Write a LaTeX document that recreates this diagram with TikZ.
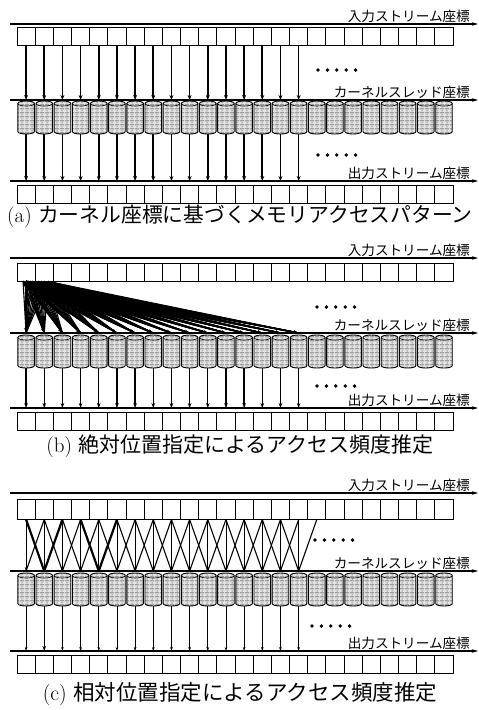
\documentclass[tikz,border=0pt]{standalone}
\usepackage{fontspec}
\newfontfamily\jp{Noto Sans CJK JP}
\usetikzlibrary{arrows.meta,patterns}

\pgfdeclarepatternformonly{wavy}{\pgfqpoint{-0.5pt}{-0.5pt}}{\pgfqpoint{5.5pt}{4.5pt}}{\pgfqpoint{5pt}{4pt}}{%
 \pgfsetlinewidth{0.5pt}%
 \pgfpathmoveto{\pgfqpoint{0pt}{1pt}}%
 \pgfpathcurveto{\pgfqpoint{1.2pt}{2.2pt}}{\pgfqpoint{2.5pt}{-0.2pt}}{\pgfqpoint{4pt}{1pt}}%
 \pgfusepath{stroke}%
 \pgfpathcircle{\pgfqpoint{2pt}{3pt}}{0.5pt}%
 \pgfusepath{fill}%
}

\def\xL{17}
\def\cw{18.17}

\newcommand\drawpanel[2]{%
 % input axis
 \coordinate (#1-ia0) at (10,\yIA);
 \coordinate (#1-ia1) at (478,\yIA);
 \draw[axisline] (#1-ia0) -- (#1-ia1);
 \node[lbl] (#1-il) at (470,{\yIA-1}) {入力ストリーム座標};
 \foreach \i in {0,...,23} {
  \node[cell, minimum height={(\yBB-\yBT)*1pt}] (#1-b\i) at ({\xL+(\i+0.5)*\cw},{(\yBT+\yBB)/2}) {};
 }
 \foreach \j in {0,...,4} {\fill (\xDI+\j*9.4,\yDI) circle (1.9);}
 % kernel axis
 \coordinate (#1-ka0) at (10,\yKA);
 \coordinate (#1-ka1) at (478,\yKA);
 \draw[axisline] (#1-ka0) -- (#1-ka1);
 \node[lbl] (#1-kl) at (470,{\yKA-1}) {カーネルスレッド座標};
 \foreach \i in {0,...,23} {
  \pgfmathsetmacro\xa{\xL+\i*\cw+0.8}
  \pgfmathsetmacro\xb{\xL+(\i+1)*\cw-0.8}
  \path[cylbody] (\xa,{\yCT+2.5}) .. controls (\xa,{\yCT-0.83}) and (\xb,{\yCT-0.83}) .. (\xb,{\yCT+2.5}) -- (\xb,{\yCB-2.5}) .. controls (\xb,{\yCB+0.83}) and (\xa,{\yCB+0.83}) .. (\xa,{\yCB-2.5}) -- cycle;
  \draw[line width=0.6pt] (\xa,{\yCT+2.5}) .. controls (\xa,{\yCT+5.83}) and (\xb,{\yCT+5.83}) .. (\xb,{\yCT+2.5});
  \coordinate (#1-kt\i) at ({\xL+(\i+0.5)*\cw},\yKA);
  \coordinate (#1-kb\i) at ({\xL+(\i+0.5)*\cw},\yCB);
  \coordinate (#1-ot\i) at ({\xL+(\i+0.5)*\cw},\yOA);
 }
 \foreach \j in {0,...,4} {\fill (\xDO+\j*9.4,\yDO) circle (1.9);}
 % output axis
 \coordinate (#1-oa0) at (10,\yOA);
 \coordinate (#1-oa1) at (478,\yOA);
 \draw[axisline] (#1-oa0) -- (#1-oa1);
 \node[lbl] (#1-ol) at (470,{\yOA-1}) {出力ストリーム座標};
 \foreach \i in {0,...,23} {
  \node[cell, minimum height={(\yOB-\yOT)*1pt}] (#1-o\i) at ({\xL+(\i+0.5)*\cw},{(\yOT+\yOB)/2}) {};
 }
 \node[captext] (#1-cap) at (240,\yCap) {#2};
}

\begin{document}
\begin{tikzpicture}[x=1pt,y=-1pt,
  axisline/.style={line width=1.1pt,-{Stealth[length=6pt,width=3.5pt]}},
  lbl/.style={anchor=south east,inner sep=0pt,font=\jp\fontsize{13.6}{15}\selectfont},
  captext/.style={inner sep=0pt,font=\fontsize{21}{24}\selectfont},
  cell/.style={draw,line width=1pt,minimum width=18.17pt,inner sep=0pt},
  cylbody/.style={draw,line width=0.9pt,preaction={fill=gray!22},pattern=wavy,pattern color=black!85},
  arr/.style={line width=1.7pt,-{Stealth[length=5pt,width=3.9pt]}},
  oarr/.style={line width=1.3pt,-{Stealth[length=5pt,width=3.6pt]}},
  fanl/.style={line width=1.1pt},
  carr/.style={line width=0.6pt,-{Stealth[length=4pt,width=2.6pt]}},
  cdiag/.style={line width=1.1pt},
  cthick/.style={line width=2.2pt}
]
\useasboundingbox (0,0) rectangle (479,710);

% ---------- panel (a)
\def\yIA{24}\def\yBT{27}\def\yBB{45}\def\yDI{70}\def\xDI{318}
\def\yKA{100}\def\yCT{101}\def\yCB{134}\def\yDO{155}\def\xDO{318}
\def\yOA{181}\def\yOT{185}\def\yOB{203}\def\yCap{216}
\drawpanel{a}{(a) {\jp\fontsize{20.8}{24}\selectfont カーネル座標に基づくメモリアクセスパターン}}
\foreach \i in {0,...,15} {
  \draw[arr] (a-b\i.south) -- (a-kt\i);
  \draw[arr] (a-kb\i) -- (a-ot\i);
}

% ---------- panel (b)
\def\yIA{258}\def\yBT{263}\def\yBB{281}\def\yDI{307}\def\xDI{317}
\def\yKA{333}\def\yCT{335}\def\yCB{368}\def\yDO{386}\def\xDO{317}
\def\yOA{408}\def\yOT{412}\def\yOB{430}\def\yCap{446}
\drawpanel{b}{(b) {\jp 絶対位置指定によるアクセス頻度推定}}
\foreach \s [count=\k] in {-3,0,2,4,6,9,12,15,18,22} {
  \coordinate (b-f\k) at ([xshift=\s pt]b-b0.south);
}
\foreach \i in {0,...,15} {
  \foreach \k in {1,...,10} {\draw[fanl] (b-f\k) -- (b-kt\i);}
  \draw[arr] (b-b0.south) -- (b-kt\i);
  \draw[oarr] (b-kb\i) -- (b-ot\i);
}

% ---------- panel (c)
\def\yIA{493}\def\yBT{499}\def\yBB{519}\def\yDI{540}\def\xDI{315}
\def\yKA{571}\def\yCT{573}\def\yCB{606}\def\yDO{626}\def\xDO{312}
\def\yOA{651}\def\yOT{655}\def\yOB{673}\def\yCap{694}
\drawpanel{c}{{\fontsize{21.5}{24}\selectfont (c) }{\jp\fontsize{21.5}{24}\selectfont 相対位置指定によるアクセス頻度推定}}
\foreach \i in {0,...,15} {
  \pgfmathtruncatemacro\ip{\i+1}
  \pgfmathtruncatemacro\im{\i-1}
  \ifnum\i=1 \def\cst{cthick}\else\ifnum\i=4 \def\cst{cthick}\else\def\cst{cdiag}\fi\fi
  \draw[carr] (c-b\i.south) -- (c-kt\i);
  \draw[\cst] (c-b\ip.south) -- (c-kt\i);
  \ifnum\i>0 \draw[\cst] (c-b\im.south) -- (c-kt\i); \fi
  \ifnum\i=1 \draw[oarr] (c-kb\i) -- (c-ot\i); \else \draw[carr] (c-kb\i) -- (c-ot\i); \fi
}
\end{tikzpicture}
\end{document}
